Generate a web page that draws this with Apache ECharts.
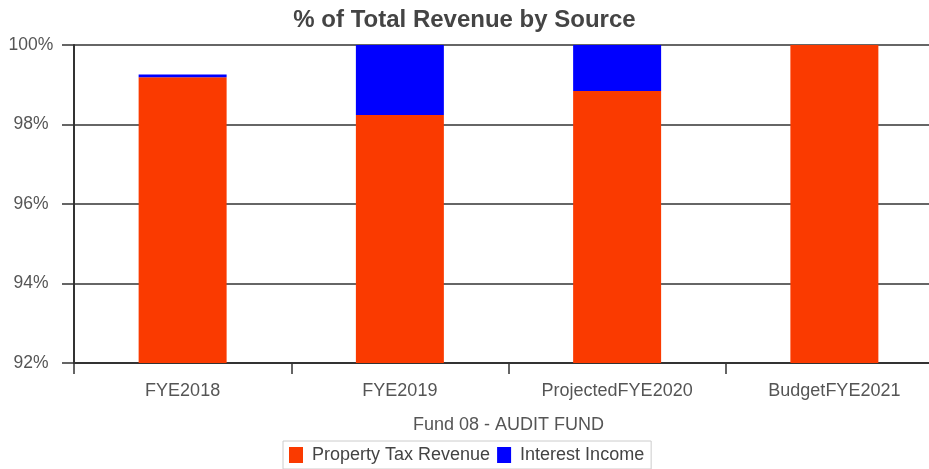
<!DOCTYPE html>
<html>
<head>
<meta charset="utf-8">
<script src="https://cdn.jsdelivr.net/npm/echarts@6/dist/echarts.min.js"></script>
<style>
  html, body { margin: 0; padding: 0; background: #fff; }
  #chart { width: 929px; height: 469px; }
</style>
</head>
<body>
<div id="chart"></div>
<script>
// Revenue share by fiscal year (percent of total)
const categories = ['FYE2018', 'FYE2019', 'ProjectedFYE2020', 'BudgetFYE2021'];
const propertyTax = [99.19, 98.24, 98.84, 100];
const interestIncome = [0.07, 1.76, 1.16, 0];
const yTicks = { min: 92, max: 100, step: 2 };

const chart = echarts.init(document.getElementById('chart'));
const font = '"Liberation Sans", Arial, sans-serif';

chart.setOption({
  animation: false,
  textStyle: { fontFamily: font },
  title: {
    text: '% of Total Revenue by Source',
    left: 'center',
    top: 3,
    textStyle: { fontFamily: font, fontSize: 24, fontWeight: 'bold', color: '#444' }
  },
  legend: {
    data: ['Property Tax Revenue', 'Interest Income'],
    left: 283,
    top: 441,
    icon: 'rect',
    itemWidth: 14,
    itemHeight: 16,
    itemGap: 7,
    padding: [5, 7, 5, 6],
    borderColor: '#ccc',
    borderWidth: 1,
    textStyle: { fontFamily: font, fontSize: 18, color: '#444', padding: [0, 0, 0, 4] }
  },
  // plot area runs slightly past the right edge of the canvas
  grid: { left: 74, width: 869, top: 45, bottom: 106, containLabel: false, outerBoundsMode: 'none' },
  xAxis: {
    type: 'category',
    data: categories,
    name: 'Fund 08 - AUDIT FUND',
    nameLocation: 'middle',
    nameGap: 53,
    nameTextStyle: { fontFamily: font, fontSize: 18, color: '#555' },
    axisLine: { show: true, lineStyle: { color: '#333', width: 2 } },
    axisTick: { show: true, length: 11, lineStyle: { color: '#333', width: 1.5 } },
    axisLabel: { fontFamily: font, fontSize: 18, color: '#555', margin: 19 }
  },
  yAxis: {
    type: 'value',
    min: yTicks.min,
    max: yTicks.max,
    interval: yTicks.step,
    axisLine: { show: true, lineStyle: { color: '#333', width: 2 } },
    axisTick: { show: true, length: 12, lineStyle: { color: '#333', width: 1.5 } },
    axisLabel: { fontFamily: font, fontSize: 17.5, color: '#555', margin: 43, align: 'center', formatter: '{value}%' },
    splitLine: { show: true, lineStyle: { color: '#333', width: 1.5 } }
  },
  series: [
    {
      name: 'Property Tax Revenue',
      type: 'bar',
      stack: 'total',
      barWidth: '40.5%',
      itemStyle: { color: '#FA3A00' },
      data: propertyTax
    },
    {
      name: 'Interest Income',
      type: 'bar',
      stack: 'total',
      itemStyle: { color: '#0000FF' },
      data: interestIncome
    }
  ]
});
</script>
</body>
</html>
